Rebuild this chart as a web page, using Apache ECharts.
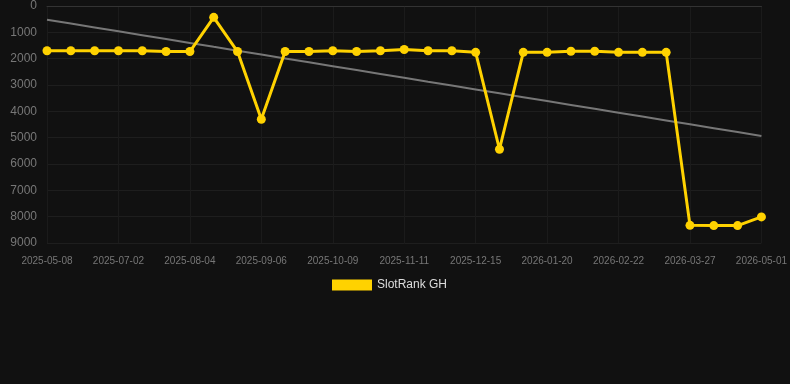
<!DOCTYPE html>
<html>
<head>
<meta charset="utf-8">
<script src="https://cdn.jsdelivr.net/npm/echarts@6/dist/echarts.min.js"></script>
<style>
  html, body { margin: 0; padding: 0; background: #111111; }
  #chart { width: 790px; height: 384px; }
</style>
</head>
<body>
<div id="chart"></div>
<script>
// dates (x categories) - only every third one is labelled on the axis
const dates = [
  "2025-05-08", "2025-05-26", "2025-06-13", "2025-07-02", "2025-07-13", "2025-07-24",
  "2025-08-04", "2025-08-15", "2025-08-26", "2025-09-06", "2025-09-17", "2025-09-28",
  "2025-10-09", "2025-10-20", "2025-10-31", "2025-11-11", "2025-11-22", "2025-12-03",
  "2025-12-15", "2025-12-27", "2026-01-08", "2026-01-20", "2026-01-31", "2026-02-11",
  "2026-02-22", "2026-03-05", "2026-03-16", "2026-03-27", "2026-04-08", "2026-04-20",
  "2026-05-01",
]
// rank values
const ranks = [
  1700, 1700, 1700, 1700, 1700, 1730, 1730,
  430, 1730, 4300, 1730, 1730, 1700, 1730, 1700, 1650, 1700, 1700, 1760,
  5440, 1760, 1760, 1720, 1720, 1760, 1760, 1760,
  8330, 8340, 8340, 8010,
]
const seriesName = "SlotRank GH"

// least squares trend over the series
const trend = (() => {
  const n = ranks.length
  let sx = 0, sy = 0, sxy = 0, sxx = 0
  ranks.forEach((v, i) => { sx += i; sy += v; sxy += i * v; sxx += i * i })
  const b = (n * sxy - sx * sy) / (n * sxx - sx * sx)
  const a = (sy - b * sx) / n
  return ranks.map((_, i) => Math.round(a + b * i))
})()

const chart = echarts.init(document.getElementById("chart"))
const option = {
  backgroundColor: "#111111",
  animation: false,
  grid: {
    top: 6,
    left: 47,
    right: 28,
    bottom: 141,
  },
  legend: {
    top: 274,
    left: 327,
    data: [seriesName],
    icon: "rect",
    itemWidth: 40,
    itemHeight: 11,
    itemGap: 6,
    textStyle: { color: "#dddddd", fontSize: 12 },
  },
  xAxis: {
    type: "category",
    data: dates,
    boundaryGap: false,
    axisLine: { lineStyle: { color: "#333333" } },
    axisTick: { show: false },
    axisLabel: {
      color: "#777777",
      fontSize: 10,
      interval: 2,
      margin: 13,
    },
    splitLine: {
      show: true,
      interval: 2,
      lineStyle: { color: "#1b1b1b" },
    },
  },
  yAxis: {
    type: "value",
    inverse: true,
    min: 0,
    max: 9000,
    interval: 1000,
    axisLine: { show: false },
    axisTick: { show: false },
    axisLabel: { color: "#777777", fontSize: 12, margin: 10, formatter: (v) => String(v) },
    splitLine: { lineStyle: { color: "#1e1e1e" } },
  },
  series: [
    {
      name: seriesName,
      type: "line",
      data: ranks,
      symbol: "circle",
      symbolSize: 9,
      itemStyle: { color: "#ffd200" },
      lineStyle: { color: "#ffd200", width: 3 },
      z: 3,
    },
    {
      name: "trend",
      type: "line",
      data: trend,
      symbol: "none",
      lineStyle: { color: "#777777", width: 2 },
      z: 2,
    },
  ],
}
chart.setOption(option)
</script>
</body>
</html>
